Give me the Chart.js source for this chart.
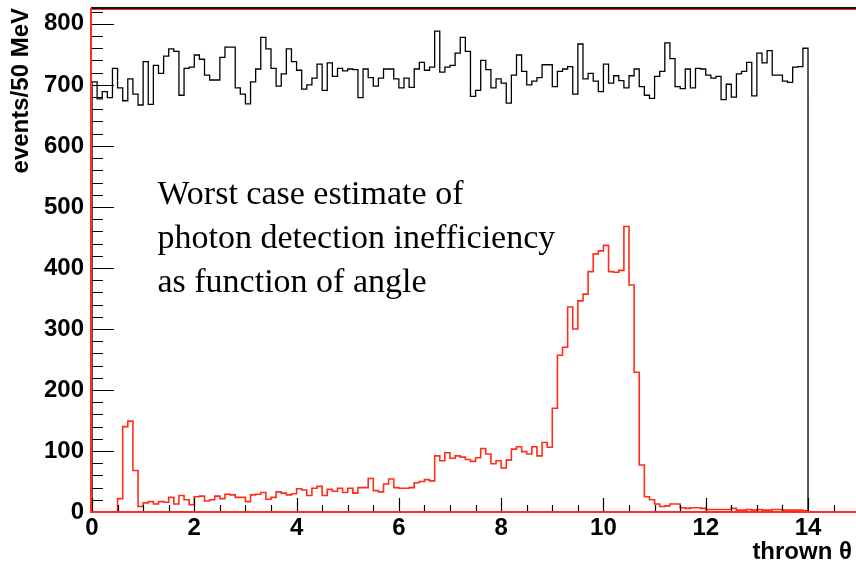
<!DOCTYPE html>
<html>
<head>
<meta charset="utf-8">
<title>thrown theta</title>
<script src="https://cdn.jsdelivr.net/npm/chart.js@4.4.1/dist/chart.umd.min.js"></script>
<style>
  html, body { margin: 0; padding: 0; background: #fff; overflow: hidden; }
  #wrap { width: 856px; height: 568px; }
</style>
</head>
<body>
<div id="wrap"><canvas id="chart"></canvas></div>
<script>
// bins are 0.1 wide, from 0 to 14
const binWidth = 0.1;

// all thrown events (black)
const thrownAll = [
  705, 677, 689, 679, 727, 695, 674, 710, 685, 667,
  738, 668, 732, 719, 747, 759, 755, 683, 727, 729,
  749, 742, 716, 708, 708, 745, 762, 762, 695, 685,
  669, 705, 726, 778, 759, 727, 698, 718, 759, 738,
  724, 693, 700, 711, 734, 691, 736, 714, 727, 723,
  726, 725, 679, 726, 712, 698, 711, 726, 726, 710,
  695, 711, 696, 726, 737, 724, 729, 788, 721, 729,
  732, 752, 778, 755, 681, 691, 740, 725, 695, 710,
  703, 670, 716, 749, 722, 700, 706, 712, 733, 733,
  697, 722, 726, 730, 685, 767, 710, 719, 706, 689,
  734, 703, 715, 707, 695, 715, 726, 697, 683, 678,
  714, 722, 769, 743, 697, 694, 726, 695, 727, 726,
  716, 711, 714, 676, 701, 680, 718, 722, 737, 682,
  752, 736, 756, 716, 716, 706, 704, 729, 730, 760
];

// worst case inefficiency (red)
const missed = [
  0, 0, 0, 0, 0, 22, 140, 149, 68, 9,
  15, 17, 13, 17, 16, 24, 13, 27, 20, 12,
  25, 26, 18, 20, 26, 22, 29, 28, 24, 24,
  17, 28, 29, 32, 21, 24, 33, 31, 28, 30,
  38, 36, 27, 39, 42, 27, 37, 34, 39, 32,
  39, 31, 40, 40, 55, 35, 33, 46, 54, 40,
  39, 39, 40, 48, 50, 53, 51, 92, 84, 97,
  88, 92, 90, 86, 83, 89, 104, 95, 79, 84,
  72, 85, 103, 107, 99, 95, 107, 92, 114, 106,
  170, 257, 270, 336, 300, 346, 357, 394, 423, 428,
  437, 394, 393, 396, 468, 372, 229, 77, 25, 20,
  13, 9, 10, 13, 13, 7, 6, 7, 7, 6,
  4, 4, 4, 4, 4, 6, 3, 3, 4, 3,
  4, 3, 3, 4, 4, 3, 3, 3, 3, 2
];

const xTicks = [0, 2, 4, 6, 8, 10, 12, 14];
const yTicks = [0, 100, 200, 300, 400, 500, 600, 700, 800];
const xMinor = 0.5;
const yMinor = 20;

const noteLines = [
  "Worst case estimate of",
  "photon detection inefficiency",
  "as function of angle"
];

const AXIS_FONT = '"Liberation Sans", Arial, Helvetica, sans-serif';
const RED = "rgb(255,45,25)";

// histogram outline: left edge of every bin, then close at the right edge
function histPoints(values) {
  const pts = [{ x: 0, y: 0 }];
  values.forEach((v, i) => pts.push({ x: i * binWidth, y: v }));
  const end = values.length * binWidth;
  pts.push({ x: end, y: values[values.length - 1] });
  pts.push({ x: end, y: 0 });
  return pts;
}

// keep the frame where it is, whatever the tick labels want
function noPad(s) {
  s.paddingTop = 0;
  s.paddingBottom = 0;
  s.paddingLeft = 0;
  s.paddingRight = 0;
}

const rootFrame = {
  id: "rootFrame",
  afterDatasetsDraw(chart) {
    const { ctx, chartArea: a, scales: { x, y } } = chart;
    const farRight = chart.width;
    ctx.save();

    // tick marks drawn inside the frame, ROOT style
    ctx.strokeStyle = "#000";
    ctx.lineWidth = 1.2;
    ctx.beginPath();
    const nY = Math.floor(y.max / yMinor);
    for (let i = 0; i <= nY; i++) {
      const v = i * yMinor;
      const py = Math.round(y.getPixelForValue(v)) + 0.5;
      const len = v % 100 === 0 ? 22 : 11;
      ctx.moveTo(a.left, py);
      ctx.lineTo(a.left + len, py);
    }
    const nX = Math.floor(x.max / xMinor);
    for (let i = 0; i <= nX; i++) {
      const v = i * xMinor;
      const px = Math.round(x.getPixelForValue(v)) + 0.5;
      const len = i % 4 === 0 ? 14 : 7;
      ctx.moveTo(px, a.bottom);
      ctx.lineTo(px, a.bottom - len);
    }
    ctx.stroke();

    // frame
    ctx.lineWidth = 2;
    ctx.strokeStyle = "#111";
    ctx.beginPath();
    ctx.moveTo(a.left - 1, a.top);
    ctx.lineTo(farRight, a.top);
    ctx.stroke();
    ctx.strokeStyle = RED;
    ctx.lineWidth = 1;
    ctx.beginPath();
    ctx.moveTo(a.left, a.top + 1.5);
    ctx.lineTo(farRight, a.top + 1.5);
    ctx.stroke();
    ctx.lineWidth = 2;
    ctx.beginPath();
    ctx.moveTo(a.left - 1, a.top);
    ctx.lineTo(a.left - 1, a.bottom);
    ctx.lineTo(farRight, a.bottom);
    ctx.stroke();

    // annotation
    ctx.fillStyle = "#000";
    ctx.font = '34px "Liberation Serif", "Times New Roman", serif';
    ctx.textAlign = "left";
    ctx.textBaseline = "alphabetic";
    const tx = x.getPixelForValue(1.28);
    noteLines.forEach((line, i) => ctx.fillText(line, tx, 204 + i * 44));

    ctx.restore();
  }
};

new Chart(document.getElementById("chart"), {
  type: "line",
  data: {
    datasets: [
      {
        label: "thrown",
        data: histPoints(thrownAll),
        borderColor: "#000",
        borderWidth: 1.3,
        stepped: "before",
        pointRadius: 0,
        fill: false
      },
      {
        label: "missed",
        data: histPoints(missed),
        borderColor: RED,
        borderWidth: 1.6,
        stepped: "before",
        pointRadius: 0,
        fill: false
      }
    ]
  },
  options: {
    responsive: true,
    maintainAspectRatio: false,
    animation: false,
    layout: { padding: { top: 8, right: 4, left: 0, bottom: 0 } },
    plugins: {
      legend: { display: false },
      tooltip: { enabled: false }
    },
    scales: {
      x: {
        type: "linear",
        min: 0,
        max: 14.86,
        grid: { display: false, drawTicks: false },
        border: { display: false },
        afterBuildTicks: s => { s.ticks = xTicks.map(v => ({ value: v })); },
        afterFit: s => { s.height = 56; noPad(s); },
        ticks: {
          autoSkip: false,
          maxRotation: 0,
          padding: 2,
          color: "#000",
          font: { family: AXIS_FONT, size: 24, weight: "bold" }
        },
        title: {
          display: true,
          text: "thrown θ",
          align: "end",
          color: "#000",
          padding: { top: 0, bottom: 1 },
          font: { family: AXIS_FONT, size: 24, weight: "bold" }
        }
      },
      y: {
        type: "linear",
        min: 0,
        max: 826,
        grid: { display: false, drawTicks: false },
        border: { display: false },
        afterBuildTicks: s => { s.ticks = yTicks.map(v => ({ value: v })); },
        afterFit: s => { s.width = 92; noPad(s); },
        ticks: {
          autoSkip: false,
          padding: 8,
          color: "#000",
          font: { family: AXIS_FONT, size: 24, weight: "bold" }
        },
        title: {
          display: true,
          text: "events/50 MeV",
          align: "end",
          color: "#000",
          padding: { top: 7, bottom: 0 },
          font: { family: AXIS_FONT, size: 24, weight: "bold" }
        }
      }
    }
  },
  plugins: [rootFrame]
});
</script>
</body>
</html>
